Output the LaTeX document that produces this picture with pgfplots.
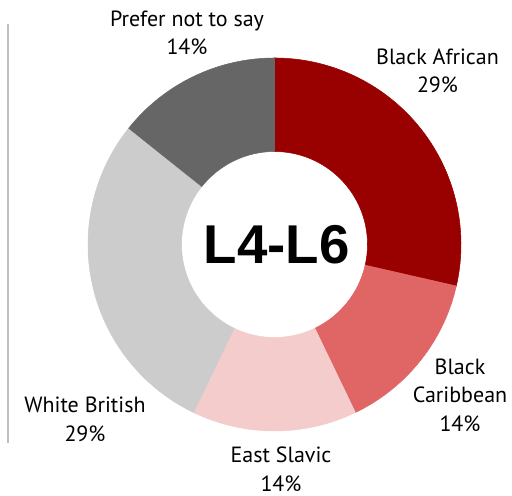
\documentclass[border=0pt]{standalone}
\usepackage{pgfplots}
\usepackage{pgfplotstable}
\pgfplotsset{compat=1.18}
\usepackage{fontspec}
\setmainfont{PT Sans}
\newfontfamily\arialbold{Liberation Sans}[BoldFont={Liberation Sans Bold}]
\definecolor{cA}{HTML}{990000}
\definecolor{cB}{HTML}{E06666}
\definecolor{cC}{HTML}{F4CCCC}
\definecolor{cD}{HTML}{CCCCCC}
\definecolor{cE}{HTML}{666666}
\pgfplotstableread{
id v
0 2
1 1
2 1
3 2
4 1
}\data
% geometry in px (1px = 0.75pt)
\def\cx{274.5}
\def\cy{251.5}
\def\Ro{186.5}
\def\Ri{93}
\newcommand\pieslice[2]{%
  \filldraw[fill=#2, draw=#2, line width=0.4pt] (axis cs:{\cx+\Ro*cos(\csname aS#1\endcsname)},{\cy+\Ro*sin(\csname aS#1\endcsname)})
    arc[start angle=\csname aS#1\endcsname, end angle=\csname aE#1\endcsname, radius=\Ro*0.75pt]
    -- (axis cs:{\cx+\Ri*cos(\csname aE#1\endcsname)},{\cy+\Ri*sin(\csname aE#1\endcsname)})
    arc[start angle=\csname aE#1\endcsname, end angle=\csname aS#1\endcsname, radius=\Ri*0.75pt]
    -- cycle;}
\begin{document}
\begin{tikzpicture}
\xdef\tot{0}
\pgfplotsforeachungrouped \i in {0,...,4}{%
  \pgfplotstablegetelem{\i}{v}\of\data
  \pgfmathsetmacro\t{\tot+\pgfplotsretval}\xdef\tot{\t}}
\xdef\cum{0}
\pgfplotsforeachungrouped \i in {0,...,4}{%
  \pgfplotstablegetelem{\i}{v}\of\data
  \pgfmathsetmacro\s{90-\cum*360/\tot}
  \pgfmathsetmacro\e{90-(\cum+\pgfplotsretval)*360/\tot}
  \expandafter\xdef\csname aS\i\endcsname{\s}
  \expandafter\xdef\csname aE\i\endcsname{\e}
  \pgfmathsetmacro\c{\cum+\pgfplotsretval}\xdef\cum{\c}}
\begin{axis}[hide axis, x=0.75pt, y=0.75pt, xmin=0, xmax=512, ymin=0, ymax=496, clip=false]
\coordinate (bl) at (axis cs:0,0);
\coordinate (tr) at (axis cs:512,496);
\pieslice{0}{cA}
\pieslice{1}{cB}
\pieslice{2}{cC}
\pieslice{3}{cD}
\pieslice{4}{cE}
\draw[color={rgb,255:red,191;green,191;blue,191}, line width=1.1pt] (axis cs:8,472) -- (axis cs:8,53);
\node[font=\arialbold\bfseries\fontsize{41}{41}\selectfont] at (axis cs:276.5,251.5) {L4-L6};
\begin{scope}[every node/.style={anchor=base, font=\fontsize{16.5}{19}\selectfont, inner sep=0pt}]
\node at (axis cs:187,469) {Prefer not to say};
\node at (axis cs:187,441) {14\%};
\node at (axis cs:437.5,431) {Black African};
\node at (axis cs:437.5,403) {29\%};
\node at (axis cs:460,121) {Black};
\node at (axis cs:460,93) {Caribbean};
\node at (axis cs:460,64) {14\%};
\node at (axis cs:281,33) {East Slavic};
\node at (axis cs:281,4.5) {14\%};
\node at (axis cs:85,83) {White British};
\node at (axis cs:85,54) {29\%};
\end{scope}
\end{axis}
\pgfresetboundingbox
\useasboundingbox (bl) rectangle (tr);
\end{tikzpicture}
\end{document}
